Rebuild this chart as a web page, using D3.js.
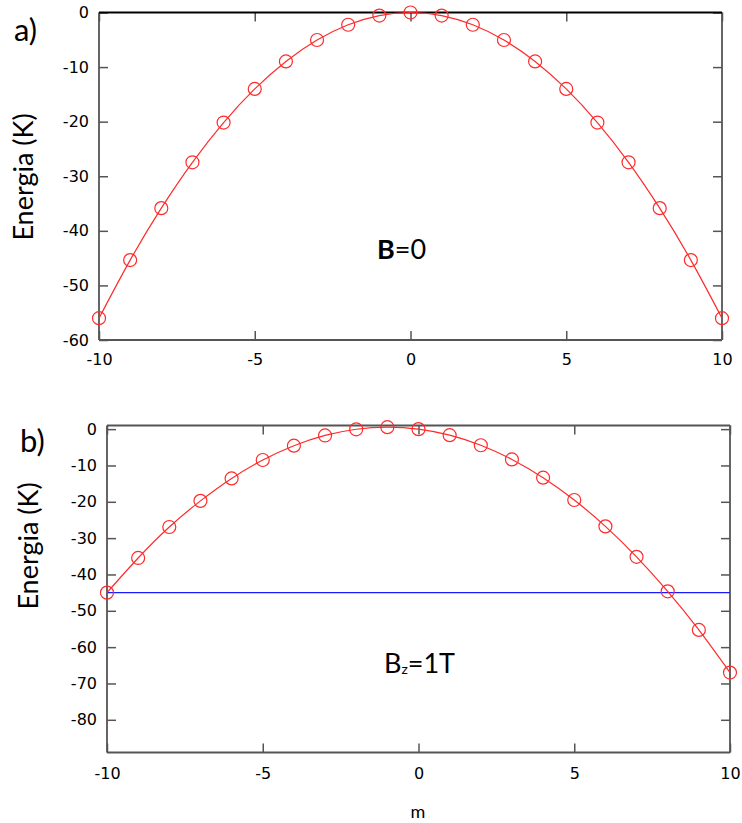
<!DOCTYPE html>
<html>
<head>
<meta charset="utf-8">
<script src="https://cdn.jsdelivr.net/npm/d3@7"></script>
<style>
  html, body { margin: 0; padding: 0; background: #fff; }
  svg { display: block; }
  .lbl { font-family: Lato, "Open Sans", sans-serif; fill: #000; }
</style>
</head>
<body>
<svg id="chart" width="742" height="823"></svg>
<script>
// magnetic quantum number m
const mValues = [-10, -9, -8, -7, -6, -5, -4, -3, -2, -1, 0, 1, 2, 3, 4, 5, 6, 7, 8, 9, 10];
// energy levels (K) without field
const energyB0 = [-56, -45.36, -35.84, -27.44, -20.16, -14, -8.96, -5.04, -2.24, -0.56, 0,
                  -0.56, -2.24, -5.04, -8.96, -14, -20.16, -27.44, -35.84, -45.36, -56];
// energy levels (K) with Bz = 1 T
const energyBz = [-45, -35.46, -26.94, -19.74, -13.56, -8.5, -4.56, -1.74, -0.04, 0.54, 0,
                  -1.66, -4.44, -8.34, -13.36, -19.5, -26.76, -35.14, -44.64, -55.26, -67];
// reference level drawn in panel b
const levelLine = -45;

const xTicks = [-10, -5, 0, 5, 10];
const yTicksA = [0, -10, -20, -30, -40, -50, -60];
const yTicksB = [0, -10, -20, -30, -40, -50, -60, -70, -80];

const svg = d3.select("#chart");
const red = "#ff2a2a";
const axisCol = "#555";
const plain = d => String(d);   // hyphen-minus labels

function panel(opts) {
  const { left, right, top, bottom, yDomain, yTicks, values, xPad, hline, topColor } = opts;
  const x = d3.scaleLinear().domain([-10, 10]).range([left, right]);
  const y = d3.scaleLinear().domain(yDomain).range([bottom, top]);
  const g = svg.append("g");

  // inward ticks on all four sides
  const yl = g.append("g").attr("transform", `translate(${left},0)`)
    .call(d3.axisLeft(y).tickValues(yTicks).tickFormat(plain)
      .tickSizeInner(-9).tickSizeOuter(0).tickPadding(10));
  const yr = g.append("g").attr("transform", `translate(${right},0)`)
    .call(d3.axisRight(y).tickValues(yTicks).tickSizeInner(-9).tickSizeOuter(0).tickFormat(""));
  const xb = g.append("g").attr("transform", `translate(0,${bottom})`)
    .call(d3.axisBottom(x).tickValues(xTicks).tickFormat(plain)
      .tickSizeInner(-9).tickSizeOuter(0).tickPadding(xPad));
  const xt = g.append("g").attr("transform", `translate(0,${top})`)
    .call(d3.axisTop(x).tickValues(xTicks).tickSizeInner(-9).tickSizeOuter(0).tickFormat(""));
  [yl, yr, xb, xt].forEach(a => {
    a.select(".domain").remove();
    a.attr("font-family", "'DejaVu Sans', Verdana, sans-serif").attr("font-size", 16);
    a.selectAll(".tick text").attr("fill", "#000");
    a.selectAll(".tick line").attr("stroke", axisCol).attr("stroke-width", 1.5);
  });

  // frame
  g.append("line").attr("x1", left).attr("x2", left).attr("y1", top).attr("y2", bottom)
    .attr("stroke", axisCol).attr("stroke-width", 1.8);
  g.append("line").attr("x1", right).attr("x2", right).attr("y1", top).attr("y2", bottom)
    .attr("stroke", axisCol).attr("stroke-width", 1.8);
  g.append("line").attr("x1", left).attr("x2", right).attr("y1", bottom).attr("y2", bottom)
    .attr("stroke", axisCol).attr("stroke-width", 1.8);
  g.append("line").attr("x1", left).attr("x2", right).attr("y1", top).attr("y2", top)
    .attr("stroke", topColor).attr("stroke-width", 1.8);

  if (hline !== undefined) {
    g.append("line").attr("x1", x(-10)).attr("x2", x(10))
      .attr("y1", y(hline)).attr("y2", y(hline))
      .attr("stroke", "#1a1aff").attr("stroke-width", 1.3);
  }

  const pts = mValues.map((m, i) => [m, values[i]]);
  const line = d3.line().x(d => x(d[0])).y(d => y(d[1])).curve(d3.curveNatural);
  g.append("path").datum(pts).attr("d", line)
    .attr("fill", "none").attr("stroke", red).attr("stroke-width", 1.2);
  g.selectAll("circle.pt").data(pts).join("circle").attr("class", "pt")
    .attr("cx", d => x(d[0])).attr("cy", d => y(d[1])).attr("r", 6.5)
    .attr("fill", "none").attr("stroke", red).attr("stroke-width", 1.2);
  return { x, y, g };
}

panel({ left: 99, right: 722, top: 12.5, bottom: 340, yDomain: [-60, 0],
        yTicks: yTicksA, values: energyB0, xPad: 14, topColor: "#000" });
panel({ left: 107, right: 730, top: 425.5, bottom: 752.5, yDomain: [-89, 1],
        yTicks: yTicksB, values: energyBz, xPad: 15, hline: levelLine, topColor: axisCol });

// panel letters
svg.append("text").attr("class", "lbl").attr("x", 14).attr("y", 41)
  .attr("font-size", 31).text("a)");
svg.append("text").attr("class", "lbl").attr("x", 20).attr("y", 452)
  .attr("font-size", 31).text("b)");

// y-axis titles
[[24, 177], [29, 546]].forEach(([cx, cy]) => {
  svg.append("text").attr("class", "lbl")
    .attr("transform", `translate(${cx + 9},${cy}) rotate(-90)`)
    .attr("text-anchor", "middle").attr("font-size", 27).text("Energia (K)");
});

// field annotations
const tA = svg.append("text").attr("class", "lbl").attr("x", 377).attr("y", 259)
  .attr("font-size", 27);
tA.append("tspan").attr("font-weight", "bold").text("B");
tA.append("tspan").text("=0");

const tB = svg.append("text").attr("class", "lbl").attr("x", 384).attr("y", 673)
  .attr("font-size", 27);
tB.append("tspan").text("B");
tB.append("tspan").attr("font-size", 14).attr("dy", 1).text("z");
tB.append("tspan").attr("dy", -1).text("=1T");

// x-axis title
svg.append("text").attr("class", "lbl").attr("x", 418).attr("y", 818)
  .attr("text-anchor", "middle").attr("font-size", 18).text("m");
</script>
</body>
</html>
